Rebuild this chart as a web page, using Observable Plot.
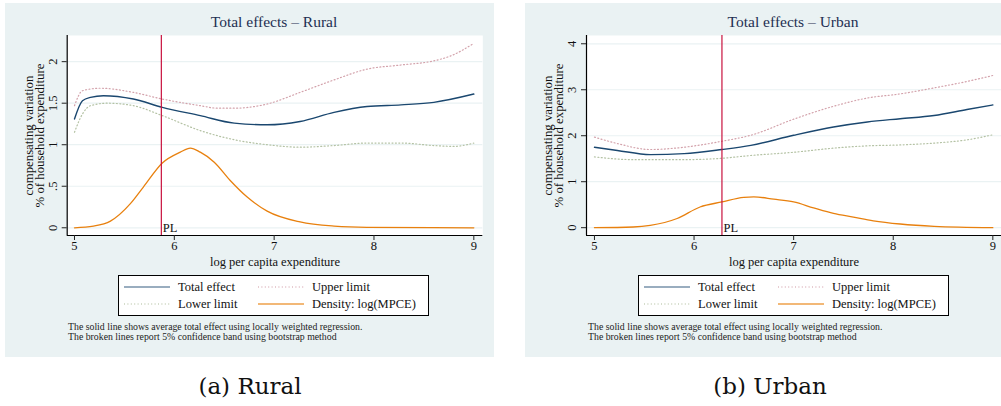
<!DOCTYPE html>
<html>
<head>
<meta charset="utf-8">
<script src="https://cdn.jsdelivr.net/npm/d3@7"></script>
<script src="https://cdn.jsdelivr.net/npm/@observablehq/plot@0.6"></script>
<style>
  html, body { margin: 0; padding: 0; background: #fff; }
  #root { position: relative; width: 1001px; height: 406px; overflow: hidden; font-family: "Liberation Serif", "DejaVu Serif", serif; color: #111; }
  .abs { position: absolute; }
  .bg { background: #eaf2f3; }
  .title { font-size: 15.5px; color: #1e2f52; transform: translate(-50%, -50%); white-space: nowrap; }
  .legend { border: 1px solid #000; background: #fff; box-sizing: border-box; }
  .lab { font-size: 12.5px; transform: translateY(-50%); white-space: nowrap; }
  .note { font-size: 9.8px; color: #222; transform: translateY(-50%); white-space: nowrap; }
  .cap { font-size: 23px; transform: translate(-50%, -50%); white-space: nowrap; font-family: "DejaVu Serif", serif; font-weight: 300; }
  svg.sw { position: absolute; overflow: visible; }
</style>
</head>
<body>
<div id="root"></div>
<script>
// ---------- data ----------
const xTicks = [5, 6, 7, 8, 9];
const ruralYTicks = [0, 0.5, 1, 1.5, 2];
const ruralYTickLabels = ["0", ".5", "1", "1.5", "2"];
const urbanYTicks = [0, 1, 2, 3, 4];
const urbanYTickLabels = ["0", "1", "2", "3", "4"];
const seriesNames = ["Total effect", "Upper limit", "Lower limit", "Density: log(MPCE)"];
const panelTitles = ["Total effects \u2013 Rural", "Total effects \u2013 Urban"];
const captions = ["(a)  Rural", "(b)  Urban"];
const xLabel = "log per capita expenditure";
const yLabel = "compensating variation\n% of household expenditure";
const notes = ["The solid line shows average total effect using locally weighted regression.",
               "The broken lines report 5% confidence band using bootstrap method"];
const plLabel = "PL";
const ruralPL = 5.87;
const urbanPL = 6.28;

// Rural
const ruralTotalX = [5, 5.08, 5.16, 5.29, 5.59, 5.88, 6.26, 6.6, 6.93, 7.26, 7.6, 7.93, 8.27, 8.6, 9];
const ruralTotalY = [1.31, 1.53, 1.57, 1.59, 1.55, 1.45, 1.35, 1.26, 1.24, 1.28, 1.39, 1.46, 1.48, 1.51, 1.61];
const ruralUpperX = [5, 5.08, 5.26, 5.59, 5.88, 6.26, 6.43, 6.6, 6.93, 7.26, 7.6, 7.93, 8.27, 8.6, 8.77, 9];
const ruralUpperY = [1.47, 1.65, 1.68, 1.63, 1.55, 1.47, 1.44, 1.44, 1.49, 1.63, 1.78, 1.91, 1.96, 2.01, 2.07, 2.22];
const ruralLowerX = [5, 5.08, 5.16, 5.33, 5.59, 5.88, 6.26, 6.6, 6.93, 7.26, 7.6, 7.93, 8.27, 8.6, 8.8, 9];
const ruralLowerY = [1.15, 1.37, 1.47, 1.50, 1.47, 1.35, 1.17, 1.06, 1.0, 0.97, 0.99, 1.02, 1.02, 0.99, 0.98, 1.02];
const ruralDensX = [5, 5.19, 5.36, 5.56, 5.69, 5.88, 6.06, 6.16, 6.26, 6.4, 6.56, 6.73, 6.93, 7.26, 7.6, 7.93, 9];
const ruralDensY = [0.0, 0.02, 0.08, 0.29, 0.49, 0.78, 0.91, 0.96, 0.91, 0.79, 0.57, 0.37, 0.2, 0.07, 0.02, 0.005, 0];

// Urban
const urbanTotalX = [5, 5.23, 5.56, 5.9, 6.28, 6.57, 7.0, 7.4, 7.74, 8.07, 8.41, 8.74, 9];
const urbanTotalY = [1.75, 1.68, 1.59, 1.61, 1.70, 1.79, 2.01, 2.19, 2.30, 2.37, 2.44, 2.57, 2.67];
const urbanUpperX = [5, 5.23, 5.56, 5.9, 6.28, 6.57, 7.0, 7.4, 7.74, 8.07, 8.41, 8.74, 9];
const urbanUpperY = [1.97, 1.83, 1.70, 1.75, 1.88, 2.01, 2.36, 2.64, 2.82, 2.91, 3.04, 3.18, 3.31];
const urbanLowerX = [5, 5.39, 5.9, 6.28, 6.57, 7.0, 7.4, 7.74, 8.07, 8.41, 8.74, 9];
const urbanLowerY = [1.54, 1.48, 1.48, 1.51, 1.57, 1.64, 1.73, 1.78, 1.80, 1.84, 1.91, 2.02];
const urbanDensX = [5, 5.39, 5.56, 5.83, 6.06, 6.28, 6.5, 6.6, 6.8, 7.0, 7.2, 7.4, 7.6, 7.8, 8.07, 8.41, 9];
const urbanDensY = [0, 0.015, 0.05, 0.2, 0.45, 0.56, 0.66, 0.67, 0.62, 0.56, 0.43, 0.31, 0.23, 0.15, 0.08, 0.03, 0.0];

// ---------- styles ----------
const colTotal = "#1a476f", colUpper = "#d3a2ab", colLower = "#b4c2a4", colDens = "#e8800e", colPL = "#c8123e";
const seriesStyles = [
  {stroke: colTotal, dash: null, width: 1.4},
  {stroke: colUpper, dash: "1 2.4", width: 1.2},
  {stroke: colLower, dash: "1 2.4", width: 1.2},
  {stroke: colDens, dash: null, width: 1.3}
];

const zip = (xs, ys) => xs.map((x, i) => ({x, y: ys[i]}));
const root = document.getElementById("root");

function el(cls, style, text) {
  const d = document.createElement("div");
  d.className = "abs " + cls;
  Object.assign(d.style, style);
  if (text != null) d.textContent = text;
  root.appendChild(d);
  return d;
}

function panel(cfg) {
  el("bg", {left: cfg.bgLeft + "px", top: "3px", width: cfg.bgWidth + "px", height: "354px"});
  el("title", {left: cfg.titleX + "px", top: "22px"}, cfg.title);

  const series = [cfg.upper, cfg.lower, cfg.total, cfg.dens];
  const st = [seriesStyles[1], seriesStyles[2], seriesStyles[0], seriesStyles[3]];
  const xmin = cfg.xDomain[0], ymin = cfg.yDomain[0];
  const chart = Plot.plot({
    width: cfg.bgWidth,
    height: 245,
    marginLeft: cfg.marginLeft,
    marginRight: cfg.marginRight,
    marginTop: 5,
    marginBottom: 40,
    style: {background: "transparent", fontFamily: "Liberation Serif, serif", fontSize: "12.5px", color: "#111"},
    x: {domain: cfg.xDomain},
    y: {domain: cfg.yDomain},
    marks: [
      Plot.frame({fill: "white", stroke: null}),
      Plot.gridY(cfg.yTicks, {stroke: "#eaf2f3", strokeOpacity: 1, strokeWidth: 1.2}),
      ...series.map((s, i) => Plot.line(s, {x: "x", y: "y", stroke: st[i].stroke, strokeWidth: st[i].width,
          strokeDasharray: st[i].dash, curve: "monotone-x"})),
      Plot.ruleX([cfg.pl], {stroke: colPL, strokeWidth: 1.2}),
      Plot.text([plLabel], {x: [cfg.pl], frameAnchor: "bottom", textAnchor: "start", lineAnchor: "middle",
          dx: 1.5, dy: -7.5, fontSize: 12.5, fill: "#111"}),
      Plot.ruleX([xmin], {stroke: "#000", strokeWidth: 1.2}),
      Plot.ruleY([ymin], {stroke: "#000", strokeWidth: 1.2}),
      Plot.axisY(cfg.yTicks, {tickSize: 5, tickFormat: () => "", stroke: "#222", label: null}),
      Plot.text(cfg.yTicks, {y: d => d, text: (d, i) => cfg.yLabels[i], frameAnchor: "left", rotate: -90,
          textAnchor: "middle", lineAnchor: "middle", dx: -14.5, fontSize: 12.5, fill: "#111"}),
      Plot.text([yLabel], {frameAnchor: "left", rotate: -90, textAnchor: "middle", lineAnchor: "middle",
          dx: -32.5, fontSize: 12.8, lineHeight: 0.86, fill: "#111"}),
      Plot.axisX(xTicks, {tickSize: 5, tickPadding: 1, tickFormat: d => String(d), stroke: "#222", fill: "#111", fontSize: 12.5, label: null}),
      Plot.text([xLabel], {frameAnchor: "bottom", lineAnchor: "middle", dy: 26.5, fontSize: 12.5, fill: "#111"})
    ]
  });
  const holder = el("", {left: cfg.bgLeft + "px", top: "30px", width: cfg.bgWidth + "px", height: "245px"});
  holder.appendChild(chart);

  const L = cfg.legendLeft;
  el("legend", {left: L + "px", top: "275px", width: "311px", height: "41px"});
  const pos = [
    {sx: L + 6, lx: L + 60, y: 287, s: 0},
    {sx: L + 140, lx: L + 194, y: 287, s: 1},
    {sx: L + 6, lx: L + 60, y: 304, s: 2},
    {sx: L + 140, lx: L + 194, y: 304, s: 3}
  ];
  pos.forEach(p => {
    const s = seriesStyles[p.s];
    const svg = d3.create("svg").attr("class", "sw").attr("width", 46).attr("height", 4)
      .style("left", p.sx + "px").style("top", (p.y - 2) + "px");
    svg.append("line").attr("x1", 0).attr("x2", 46).attr("y1", 2).attr("y2", 2)
      .attr("stroke", s.stroke).attr("stroke-width", 1.6).attr("stroke-opacity", p.s === 0 ? 0.6 : 0.75)
      .attr("stroke-dasharray", s.dash);
    root.appendChild(svg.node());
    el("lab", {left: p.lx + "px", top: p.y + "px"}, seriesNames[p.s]);
  });
  el("note", {left: cfg.noteLeft + "px", top: "326px"}, notes[0]);
  el("note", {left: cfg.noteLeft + "px", top: "336px"}, notes[1]);
  el("cap", {left: cfg.capX + "px", top: "386px"}, cfg.caption);
}

panel({
  bgLeft: 5, bgWidth: 489, marginLeft: 61.7, marginRight: 11.7,
  xDomain: [4.927, 9.09], yDomain: [-0.093, 2.315],
  yTicks: ruralYTicks, yLabels: ruralYTickLabels, pl: ruralPL,
  total: zip(ruralTotalX, ruralTotalY), upper: zip(ruralUpperX, ruralUpperY),
  lower: zip(ruralLowerX, ruralLowerY), dens: zip(ruralDensX, ruralDensY),
  title: panelTitles[0], titleX: 274, legendLeft: 118, noteLeft: 68, capX: 250, caption: captions[0]
});
panel({
  bgLeft: 525, bgWidth: 476, marginLeft: 61, marginRight: 0,
  xDomain: [4.92, 9.087], yDomain: [-0.17, 4.18],
  yTicks: urbanYTicks, yLabels: urbanYTickLabels, pl: urbanPL,
  total: zip(urbanTotalX, urbanTotalY), upper: zip(urbanUpperX, urbanUpperY),
  lower: zip(urbanLowerX, urbanLowerY), dens: zip(urbanDensX, urbanDensY),
  title: panelTitles[1], titleX: 793, legendLeft: 638, noteLeft: 588, capX: 770, caption: captions[1]
});
</script>
</body>
</html>
